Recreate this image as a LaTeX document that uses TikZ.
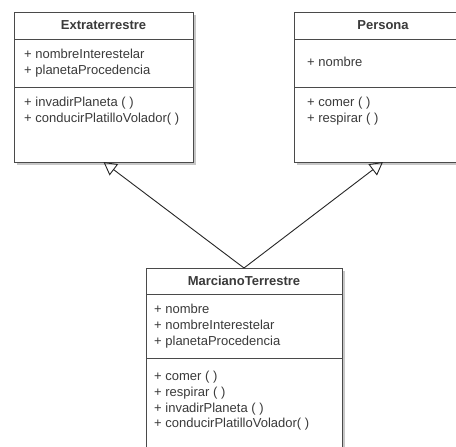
\documentclass[tikz,border=0pt]{standalone}
\usepackage{fontspec}
\setmainfont{Liberation Sans}
\usetikzlibrary{arrows.meta,shadows}
\definecolor{boxline}{HTML}{4A4A4A}
\definecolor{inkgray}{HTML}{3A3A3A}
\begin{document}
\begin{tikzpicture}[x=1pt,y=-1pt,
  classbox/.style={draw=boxline, line width=1pt, fill=white, anchor=north west,
    inner sep=0pt, outer sep=0pt,
    drop shadow={shadow xshift=3pt, shadow yshift=-3pt, fill=black, opacity=0.22}},
  classtitle/.style={font=\bfseries\fontsize{13}{15.7}\selectfont, text=inkgray, inner sep=0pt},
  members/.style={anchor=north west, inner sep=0pt, align=left,
    font=\fontsize{13}{15.7}\selectfont, text=inkgray},
  sepline/.style={draw=boxline, line width=1pt},
  generalization/.style={draw=black!85, line width=0.9pt,
    -{Triangle[open, length=13pt, width=14pt, line width=0.9pt]}}]
\useasboundingbox (0,0) rectangle (456,447);
\clip (0,0) rectangle (456,447);
\fill[white] (0,0) rectangle (456,447);

% class Extraterrestre
\node[classbox, minimum width=179pt, minimum height=150pt] (ext) at (14,12) {};
\draw[sepline] ([yshift=-27pt]ext.north west) -- ([yshift=-27pt]ext.north east);
\draw[sepline] ([yshift=-75pt]ext.north west) -- ([yshift=-75pt]ext.north east);
\node[classtitle] (extName) at (103.5,25.5) {Extraterrestre};
\node[members] (extAttr) at (24,49) {+ nombreInterestelar\\+ planetaProcedencia};
\node[members] (extOps) at (24,97) {+ invadirPlaneta ( )\\+ conducirPlatilloVolador( )};

% class Persona
\node[classbox, minimum width=178pt, minimum height=150pt] (per) at (294,12) {};
\draw[sepline] ([yshift=-27pt]per.north west) -- ([yshift=-27pt]per.north east);
\draw[sepline] ([yshift=-75pt]per.north west) -- ([yshift=-75pt]per.north east);
\node[classtitle] (perName) at (383,25.5) {Persona};
\node[members] (perAttr) at (307,57) {+ nombre};
\node[members] (perOps) at (307,97) {+ comer ( )\\+ respirar ( )};

% class MarcianoTerrestre
\node[classbox, minimum width=196pt, minimum height=200pt] (mar) at (146,268) {};
\draw[sepline] ([yshift=-26pt]mar.north west) -- ([yshift=-26pt]mar.north east);
\draw[sepline] ([yshift=-90pt]mar.north west) -- ([yshift=-90pt]mar.north east);
\node[classtitle] (marName) at (244,281) {MarcianoTerrestre};
\node[members] (marAttr) at (154,304) {+ nombre\\+ nombreInterestelar\\+ planetaProcedencia};
\node[members] (marOps) at (154,371) {+ comer ( )\\+ respirar ( )\\+ invadirPlaneta ( )\\+ conducirPlatilloVolador( )};

% generalizations
\draw[generalization] (mar.north) -- (ext.south);
\draw[generalization] (mar.north) -- (per.south);
\end{tikzpicture}
\end{document}
